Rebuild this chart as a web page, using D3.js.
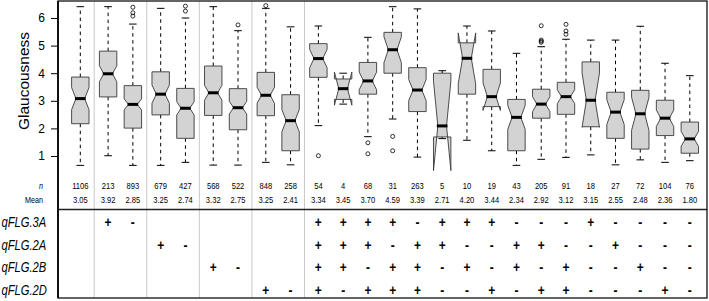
<!DOCTYPE html>
<html>
<head>
<meta charset="utf-8">
<script src="https://cdn.jsdelivr.net/npm/d3@7"></script>
<style>
  body { margin: 0; background: #fff; }
  #chart { opacity: 0.999; }
  text { font-family: "Liberation Sans", Arial, sans-serif; fill: #000; }
</style>
</head>
<body>
<div id="chart"></div>
<script>
// box statistics (glaucousness score)
const nCounts = [1106, 213, 893, 679, 427, 568, 522, 848, 258, 54, 4, 68, 31, 263, 5, 10, 19, 43, 205, 91, 18, 27, 72, 104, 76];
const means = ['3.05', '3.92', '2.85', '3.25', '2.74', '3.32', '2.75', '3.25', '2.41', '3.34', '3.45', '3.70', '4.59', '3.39', '2.71', '4.20', '3.44', '2.34', '2.92', '3.12', '3.15', '2.55', '2.48', '2.36', '1.80'];
const groupOf = [0, 1, 1, 2, 2, 3, 3, 4, 4, 5, 5, 5, 5, 5, 5, 5, 5, 5, 5, 5, 5, 5, 5, 5, 5];

const whiskerLo = [0.66, 1.01, 0.66, 0.66, 0.77, 0.67, 0.67, 0.77, 0.68, 2.10, 2.88, 1.70, 2.34, 0.96, 1.63, 1.57, 1.19, 0.66, 0.88, 0.95, 1.04, 0.68, 0.86, 0.77, 0.83];
const q1 = [2.17, 3.14, 2.01, 2.49, 1.64, 2.47, 1.95, 2.46, 1.19, 3.85, 3.05, 3.24, 4.00, 2.61, 1.69, 3.24, 2.79, 1.19, 2.37, 2.51, 2.06, 1.64, 1.25, 1.74, 1.10];
const medians = [3.08, 3.98, 2.87, 3.24, 2.73, 3.29, 2.75, 3.20, 2.28, 4.53, 3.44, 3.72, 4.85, 3.39, 2.09, 4.54, 3.15, 2.40, 2.88, 3.15, 3.02, 2.59, 2.53, 2.37, 1.62];
const q3 = [3.86, 4.80, 3.55, 4.05, 3.45, 4.26, 3.44, 4.03, 3.22, 5.07, 3.79, 4.39, 5.48, 4.20, 4.00, 5.10, 4.14, 3.05, 3.42, 3.67, 4.41, 3.31, 3.38, 3.02, 2.23];
const whiskerHi = [6.41, 6.41, 5.78, 6.35, 6.00, 6.41, 5.54, 6.35, 5.68, 5.71, 4.00, 5.30, 6.41, 6.33, 4.09, 5.71, 5.53, 4.72, 4.96, 5.23, 5.20, 5.20, 5.70, 4.36, 3.91];
const notchHalf = [0.40, 0.29, 0.20, 0.33, 0.24, 0.27, 0.23, 0.29, 0.40, 0.33, 0.60, 0.32, 0.47, 0.38, 1.62, 0.92, 0.50, 0.43, 0.27, 0.25, 0.98, 0.45, 0.60, 0.30, 0.27];
const outliers = [[], [], [6.07, 6.19, 6.39], [], [6.25, 6.43], [], [5.75], [6.45], [], [1.01], [], [1.48, 1.08], [1.71, 1.19], [], [], [], [], [], [5.12, 5.16, 5.20, 5.72], [5.41, 5.53, 5.77], [], [], [], [], []];

// genotype table: '+', '-' or '' per column
const qtlNames = ['qFLG.3A', 'qFLG.2A', 'qFLG.2B', 'qFLG.2D'];
const qFLG3A = ['', '+', '-', '', '', '', '', '', '', '+', '+', '+', '+', '-', '+', '+', '+', '-', '-', '-', '+', '-', '-', '-', '-'];
const qFLG2A = ['', '', '', '+', '-', '', '', '', '', '+', '+', '+', '-', '+', '+', '-', '-', '+', '+', '-', '-', '+', '-', '-', '-'];
const qFLG2B = ['', '', '', '', '', '+', '-', '', '', '+', '+', '-', '+', '+', '-', '+', '-', '+', '-', '+', '-', '-', '+', '-', '-'];
const qFLG2D = ['', '', '', '', '', '', '', '+', '-', '+', '-', '+', '+', '+', '-', '-', '+', '-', '+', '+', '-', '-', '-', '+', '-'];
const genotypes = [qFLG3A, qFLG2A, qFLG2B, qFLG2D];

const yTicks = [1, 2, 3, 4, 5, 6];

const W = 709, H = 301;
const frame = { left: 58, right: 707, top: 1, bottom: 298 };
const squeeze = 0.8; // table text in the figure is narrower than normal

const svg = d3.select('#chart').append('svg').attr('width', W).attr('height', H);

// slot position: index plus a small extra gap between groups
const groupGap = 0.123;
const slots = nCounts.map((d, i) => i + groupOf[i] * groupGap);
const x = d3.scaleLinear().domain([0, d3.max(slots)]).range([80.3, 689.8]);
const y = d3.scaleLinear().domain([1, 6]).range([156, 18]);

const boxHalf = 8.7;
const capHalf = 3.8;

// group separators
const sepX = [];
for (let i = 1; i < slots.length; i++) {
	if (groupOf[i] !== groupOf[i - 1]) sepX.push((x(slots[i]) + x(slots[i - 1])) / 2);
}
svg.selectAll('.sep')
	.data(sepX)
	.enter()
	.append('line')
	.attr('x1', (d) => d).attr('x2', (d) => d)
	.attr('y1', frame.top).attr('y2', frame.bottom)
	.attr('stroke', '#c8c8c8')
	.attr('stroke-width', 1);

// boxes
const boxes = nCounts.map((n, i) => ({
	cx: x(slots[i]),
	lo: whiskerLo[i], q1: q1[i], med: medians[i], q3: q3[i], hi: whiskerHi[i],
	nh: notchHalf[i], out: outliers[i],
}));

const g = svg.selectAll('.box').data(boxes).enter().append('g').attr('class', 'box');

// whiskers
g.append('line')
	.attr('x1', (d) => d.cx).attr('x2', (d) => d.cx)
	.attr('y1', (d) => y(d.q3)).attr('y2', (d) => y(d.hi))
	.attr('stroke', '#000').attr('stroke-width', 1).attr('stroke-dasharray', '3.5,3.5');
g.append('line')
	.attr('x1', (d) => d.cx).attr('x2', (d) => d.cx)
	.attr('y1', (d) => y(d.q1)).attr('y2', (d) => y(d.lo))
	.attr('stroke', '#000').attr('stroke-width', 1).attr('stroke-dasharray', '3.5,3.5');
['hi', 'lo'].forEach((k) => {
	g.append('line')
		.attr('x1', (d) => d.cx - capHalf).attr('x2', (d) => d.cx + capHalf)
		.attr('y1', (d) => y(d[k])).attr('y2', (d) => y(d[k]))
		.attr('stroke', '#000').attr('stroke-width', 1);
});

// notched box, drawn as R does it (notches may fold past the hinges)
g.append('path')
	.attr('d', (d) => {
		const L = d.cx - boxHalf, R = d.cx + boxHalf;
		const Li = d.cx - boxHalf / 2, Ri = d.cx + boxHalf / 2;
		const nLo = d.med - d.nh, nHi = d.med + d.nh;
		const pts = [[L, d.q1], [L, nLo], [Li, d.med], [L, nHi], [L, d.q3], [R, d.q3], [R, nHi], [Ri, d.med], [R, nLo], [R, d.q1]];
		return d3.line()(pts.map((p) => [p[0], y(p[1])])) + 'Z';
	})
	.attr('fill', '#d3d3d3')
	.attr('fill-rule', 'evenodd')
	.attr('stroke', '#3a3a3a')
	.attr('stroke-width', 0.9);

// medians
g.append('line')
	.attr('x1', (d) => d.cx - boxHalf / 2 - 1).attr('x2', (d) => d.cx + boxHalf / 2 + 1)
	.attr('y1', (d) => y(d.med)).attr('y2', (d) => y(d.med))
	.attr('stroke', '#000').attr('stroke-width', 3);

// outliers
g.selectAll('circle')
	.data((d) => d.out.map((v) => ({ cx: d.cx, v })))
	.enter()
	.append('circle')
	.attr('cx', (d) => d.cx).attr('cy', (d) => y(d.v))
	.attr('r', 2)
	.attr('fill', 'none')
	.attr('stroke', '#000')
	.attr('stroke-width', 0.8);

// y axis
const yAxis = svg.append('g')
	.attr('transform', `translate(${frame.left},0)`)
	.call(d3.axisLeft(y).tickValues(yTicks).tickFormat(d3.format('d')).tickSize(7).tickPadding(6));
yAxis.select('.domain').remove();
yAxis.selectAll('text').attr('font-size', 12).attr('fill', '#000').attr('font-family', '"Liberation Sans", Arial, sans-serif');

svg.append('text')
	.attr('transform', `translate(28.5,81) rotate(-90)`)
	.attr('text-anchor', 'middle')
	.attr('font-size', 15.5)
	.text('Glaucousness');

// squeezed text helper for the table area
function squeezed(sel, px, py) {
	return sel.attr('transform', (d, i) => `translate(${px(d, i)},${py}) scale(${squeeze},1)`);
}

// n / Mean rows
const rowN = 189, rowMean = 203;
squeezed(svg.append('text').attr('text-anchor', 'end').attr('font-size', 9).attr('font-style', 'italic').text('n'), () => 43, rowN);
squeezed(svg.append('text').attr('text-anchor', 'end').attr('font-size', 9).text('Mean'), () => 43, rowMean);
squeezed(
	svg.selectAll('.ntext').data(nCounts).enter().append('text')
		.attr('text-anchor', 'middle').attr('font-size', 9.5).text((d) => d),
	(d, i) => x(slots[i]), rowN);
squeezed(
	svg.selectAll('.mtext').data(means).enter().append('text')
		.attr('text-anchor', 'middle').attr('font-size', 9.5).text((d) => d),
	(d, i) => x(slots[i]), rowMean);

// divider between stats and genotype table
svg.append('line')
	.attr('x1', frame.left).attr('x2', frame.right)
	.attr('y1', 209.5).attr('y2', 209.5)
	.attr('stroke', '#222').attr('stroke-width', 1.5);

// genotype rows
const rowY = d3.scalePoint().domain(qtlNames).range([222, 290]);
qtlNames.forEach((name, r) => {
	squeezed(
		svg.append('text').attr('font-size', 14).attr('font-style', 'italic').text(name),
		() => 1.5, rowY(name) + 5);
	squeezed(
		svg.selectAll(`.gt${r}`).data(genotypes[r]).enter().append('text')
			.attr('text-anchor', 'middle').attr('font-size', 15).attr('font-weight', 'bold').text((d) => d),
		(d, i) => x(slots[i]), rowY(name) + 5);
});

// frame
svg.append('rect')
	.attr('x', frame.left).attr('y', frame.top)
	.attr('width', frame.right - frame.left).attr('height', frame.bottom - frame.top)
	.attr('fill', 'none').attr('stroke', '#111').attr('stroke-width', 1.3);
svg.append('line')
	.attr('x1', frame.left).attr('x2', frame.left)
	.attr('y1', frame.top).attr('y2', frame.bottom)
	.attr('stroke', '#111').attr('stroke-width', 2);
</script>
</body>
</html>
